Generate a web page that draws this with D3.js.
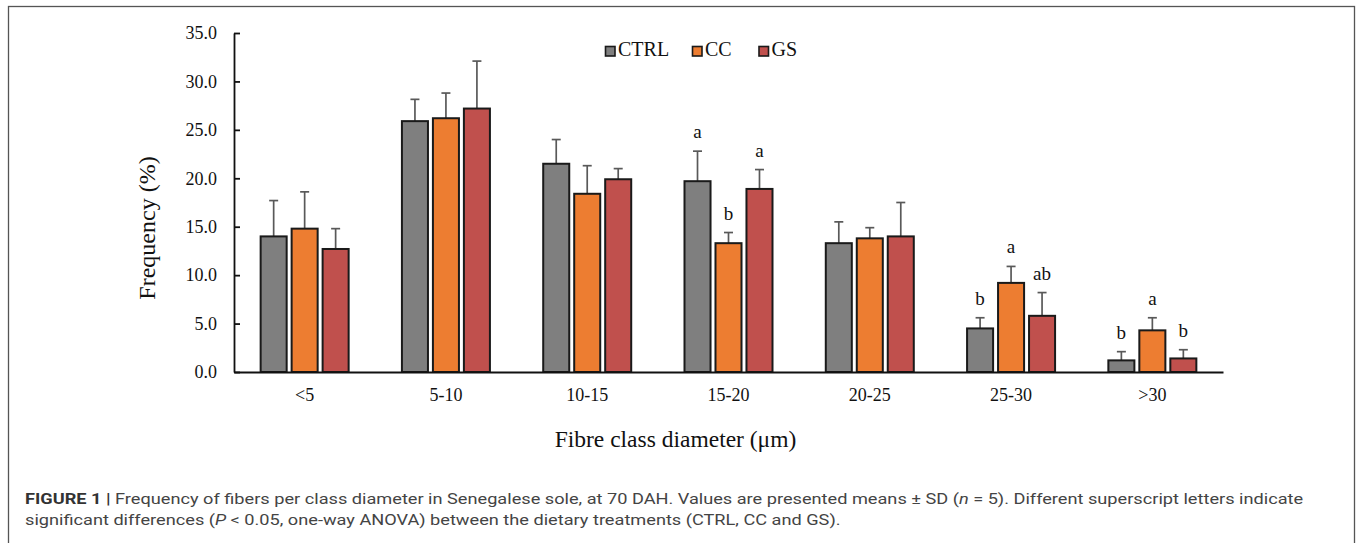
<!DOCTYPE html>
<html>
<head>
<meta charset="utf-8">
<script src="https://cdn.jsdelivr.net/npm/d3@7"></script>
<style>
  html, body { margin: 0; padding: 0; background: #fff; }
  svg { display: block; }
</style>
</head>
<body>
<svg id="chart" width="1357" height="543"></svg>
<script>
// ---- data ----
const categories = ["<5", "5-10", "10-15", "15-20", "20-25", "25-30", ">30"];
const seriesNames = ["CTRL", "CC", "GS"];
const ctrlMeans = [14.0, 25.9, 21.5, 19.7, 13.3, 4.5, 1.2];
const ctrlSD    = [3.7, 2.25, 2.5, 3.1, 2.2, 1.1, 0.9];
const ccMeans   = [14.8, 26.2, 18.4, 13.3, 13.8, 9.2, 4.3];
const ccSD      = [3.8, 2.6, 2.9, 1.1, 1.1, 1.7, 1.3];
const gsMeans   = [12.7, 27.2, 19.9, 18.9, 14.0, 5.8, 1.4];
const gsSD      = [2.1, 4.9, 1.1, 2.0, 3.5, 2.4, 0.9];
const ctrlLetters = ["", "", "", "a", "", "b", "b"];
const ccLetters   = ["", "", "", "b", "", "a", "a"];
const gsLetters   = ["", "", "", "a", "", "ab", "b"];
const yTicks = [0, 5, 10, 15, 20, 25, 30, 35];
const seriesColors = ["#7f7f7f", "#ed7d31", "#c0504d"];

const seriesData = [
  {name: "CTRL", means: ctrlMeans, sd: ctrlSD, letters: ctrlLetters},
  {name: "CC",   means: ccMeans,   sd: ccSD,   letters: ccLetters},
  {name: "GS",   means: gsMeans,   sd: gsSD,   letters: gsLetters}
];

// ---- layout ----
const svg = d3.select("#chart");
const serif = "'Liberation Serif', 'Times New Roman', serif";
const sans = "Roboto, 'Liberation Sans', Arial, sans-serif";
const plot = {left: 234, right: 1223, top: 33, bottom: 372};

// outer frame
svg.append("rect")
  .attr("x", 8.5).attr("y", 6.5)
  .attr("width", 1346).attr("height", 600)
  .attr("fill", "none").attr("stroke", "#555").attr("stroke-width", 1.3);

const x = d3.scaleBand().domain(categories).range([plot.left, plot.right]).paddingInner(0).paddingOuter(0);
const xs = d3.scaleBand().domain(seriesNames).range([-44, 44]).paddingInner(0.16);
const y = d3.scaleLinear().domain([0, 35]).range([plot.bottom, plot.top]);
const color = d3.scaleOrdinal().domain(seriesNames).range(seriesColors);

// flatten
const rows = [];
seriesData.forEach(s => {
  categories.forEach((c, i) => {
    rows.push({series: s.name, cat: c, mean: s.means[i], sd: s.sd[i], letter: s.letters[i]});
  });
});
const cx = d => x(d.cat) + x.bandwidth() / 2 + xs(d.series);

// error bars (drawn before bars so bar covers stem)
const eb = svg.append("g").attr("stroke", "#595959").attr("stroke-width", 1.7).attr("fill", "none");
eb.selectAll("line.stem").data(rows).join("line")
  .attr("class", "stem")
  .attr("x1", d => cx(d) + xs.bandwidth() / 2).attr("x2", d => cx(d) + xs.bandwidth() / 2)
  .attr("y1", d => y(d.mean)).attr("y2", d => y(d.mean + d.sd));
eb.selectAll("line.cap").data(rows).join("line")
  .attr("class", "cap")
  .attr("x1", d => cx(d) + xs.bandwidth() / 2 - 4.5).attr("x2", d => cx(d) + xs.bandwidth() / 2 + 4.5)
  .attr("y1", d => y(d.mean + d.sd)).attr("y2", d => y(d.mean + d.sd));

// bars
svg.append("g").selectAll("rect").data(rows).join("rect")
  .attr("x", d => cx(d))
  .attr("y", d => y(d.mean))
  .attr("width", xs.bandwidth())
  .attr("height", d => y(0) - y(d.mean))
  .attr("fill", d => color(d.series))
  .attr("stroke", "#1a1a1a").attr("stroke-width", 2);

// significance letters
svg.append("g").selectAll("text").data(rows.filter(d => d.letter)).join("text")
  .attr("x", d => cx(d) + xs.bandwidth() / 2)
  .attr("y", d => y(d.mean + d.sd) - 13)
  .attr("text-anchor", "middle")
  .attr("font-family", serif).attr("font-size", 19).attr("fill", "#111")
  .text(d => d.letter);

// y axis
const yAxis = d3.axisLeft(y).tickValues(yTicks).tickFormat(d3.format(".1f")).tickSizeInner(-6).tickSizeOuter(0).tickPadding(17);
const gy = svg.append("g").attr("transform", `translate(${plot.left},0)`).call(yAxis);
gy.select(".domain").attr("stroke", "#111").attr("stroke-width", 1.8);
gy.selectAll(".tick line").attr("stroke", "#111").attr("stroke-width", 1.8);
gy.selectAll(".tick text").attr("font-family", serif).attr("font-size", 18).attr("fill", "#111");

// x axis
const xAxis = d3.axisBottom(x).tickSize(0).tickSizeOuter(0).tickPadding(16);
const gx = svg.append("g").attr("transform", `translate(0,${plot.bottom})`).call(xAxis);
gx.select(".domain").attr("stroke", "#111").attr("stroke-width", 1.8);
gx.selectAll(".tick text").attr("font-family", serif).attr("font-size", 18).attr("fill", "#111");

// axis titles
svg.append("text")
  .attr("transform", "translate(155,228) rotate(-90)")
  .attr("text-anchor", "middle")
  .attr("font-family", serif).attr("font-size", 24).attr("fill", "#111")
  .text("Frequency (%)");
svg.append("text")
  .attr("x", 675.5).attr("y", 447)
  .attr("text-anchor", "middle")
  .attr("font-family", serif).attr("font-size", 23.5).attr("fill", "#111")
  .text("Fibre class diameter (\u03bcm)");

// legend
const legendX = [605.5, 692.5, 759];
const leg = svg.append("g");
seriesNames.forEach((s, i) => {
  leg.append("rect").attr("x", legendX[i]).attr("y", 46.5).attr("width", 9.5).attr("height", 9.5)
    .attr("fill", color(s)).attr("stroke", "#1a1a1a").attr("stroke-width", 1.6);
  leg.append("text").attr("x", legendX[i] + 12.5).attr("y", 56)
    .attr("font-family", serif).attr("font-size", 20).attr("fill", "#111").text(s);
});

// caption
const cap = svg.append("g").attr("font-family", sans).attr("font-size", 15.5).attr("fill", "#444");
const l1 = cap.append("text").attr("x", 0).attr("y", 0);
l1.append("tspan").attr("font-weight", "bold").attr("fill", "#333").text("FIGURE 1 | ");
l1.append("tspan").text("Frequency of fibers per class diameter in Senegalese sole, at 70 DAH. Values are presented means \u00b1 SD (");
l1.append("tspan").attr("font-style", "italic").text("n");
l1.append("tspan").text(" = 5). Different superscript letters indicate");
const l2 = cap.append("text").attr("x", 0).attr("y", 21);
l2.append("tspan").text("significant differences (");
l2.append("tspan").attr("font-style", "italic").text("P");
l2.append("tspan").text(" < 0.05, one-way ANOVA) between the dietary treatments (CTRL, CC and GS).");
const w1 = l1.node().getComputedTextLength();
const k = 1280 / w1;
cap.attr("transform", `translate(25,504) scale(${k},1)`);
</script>
</body>
</html>
